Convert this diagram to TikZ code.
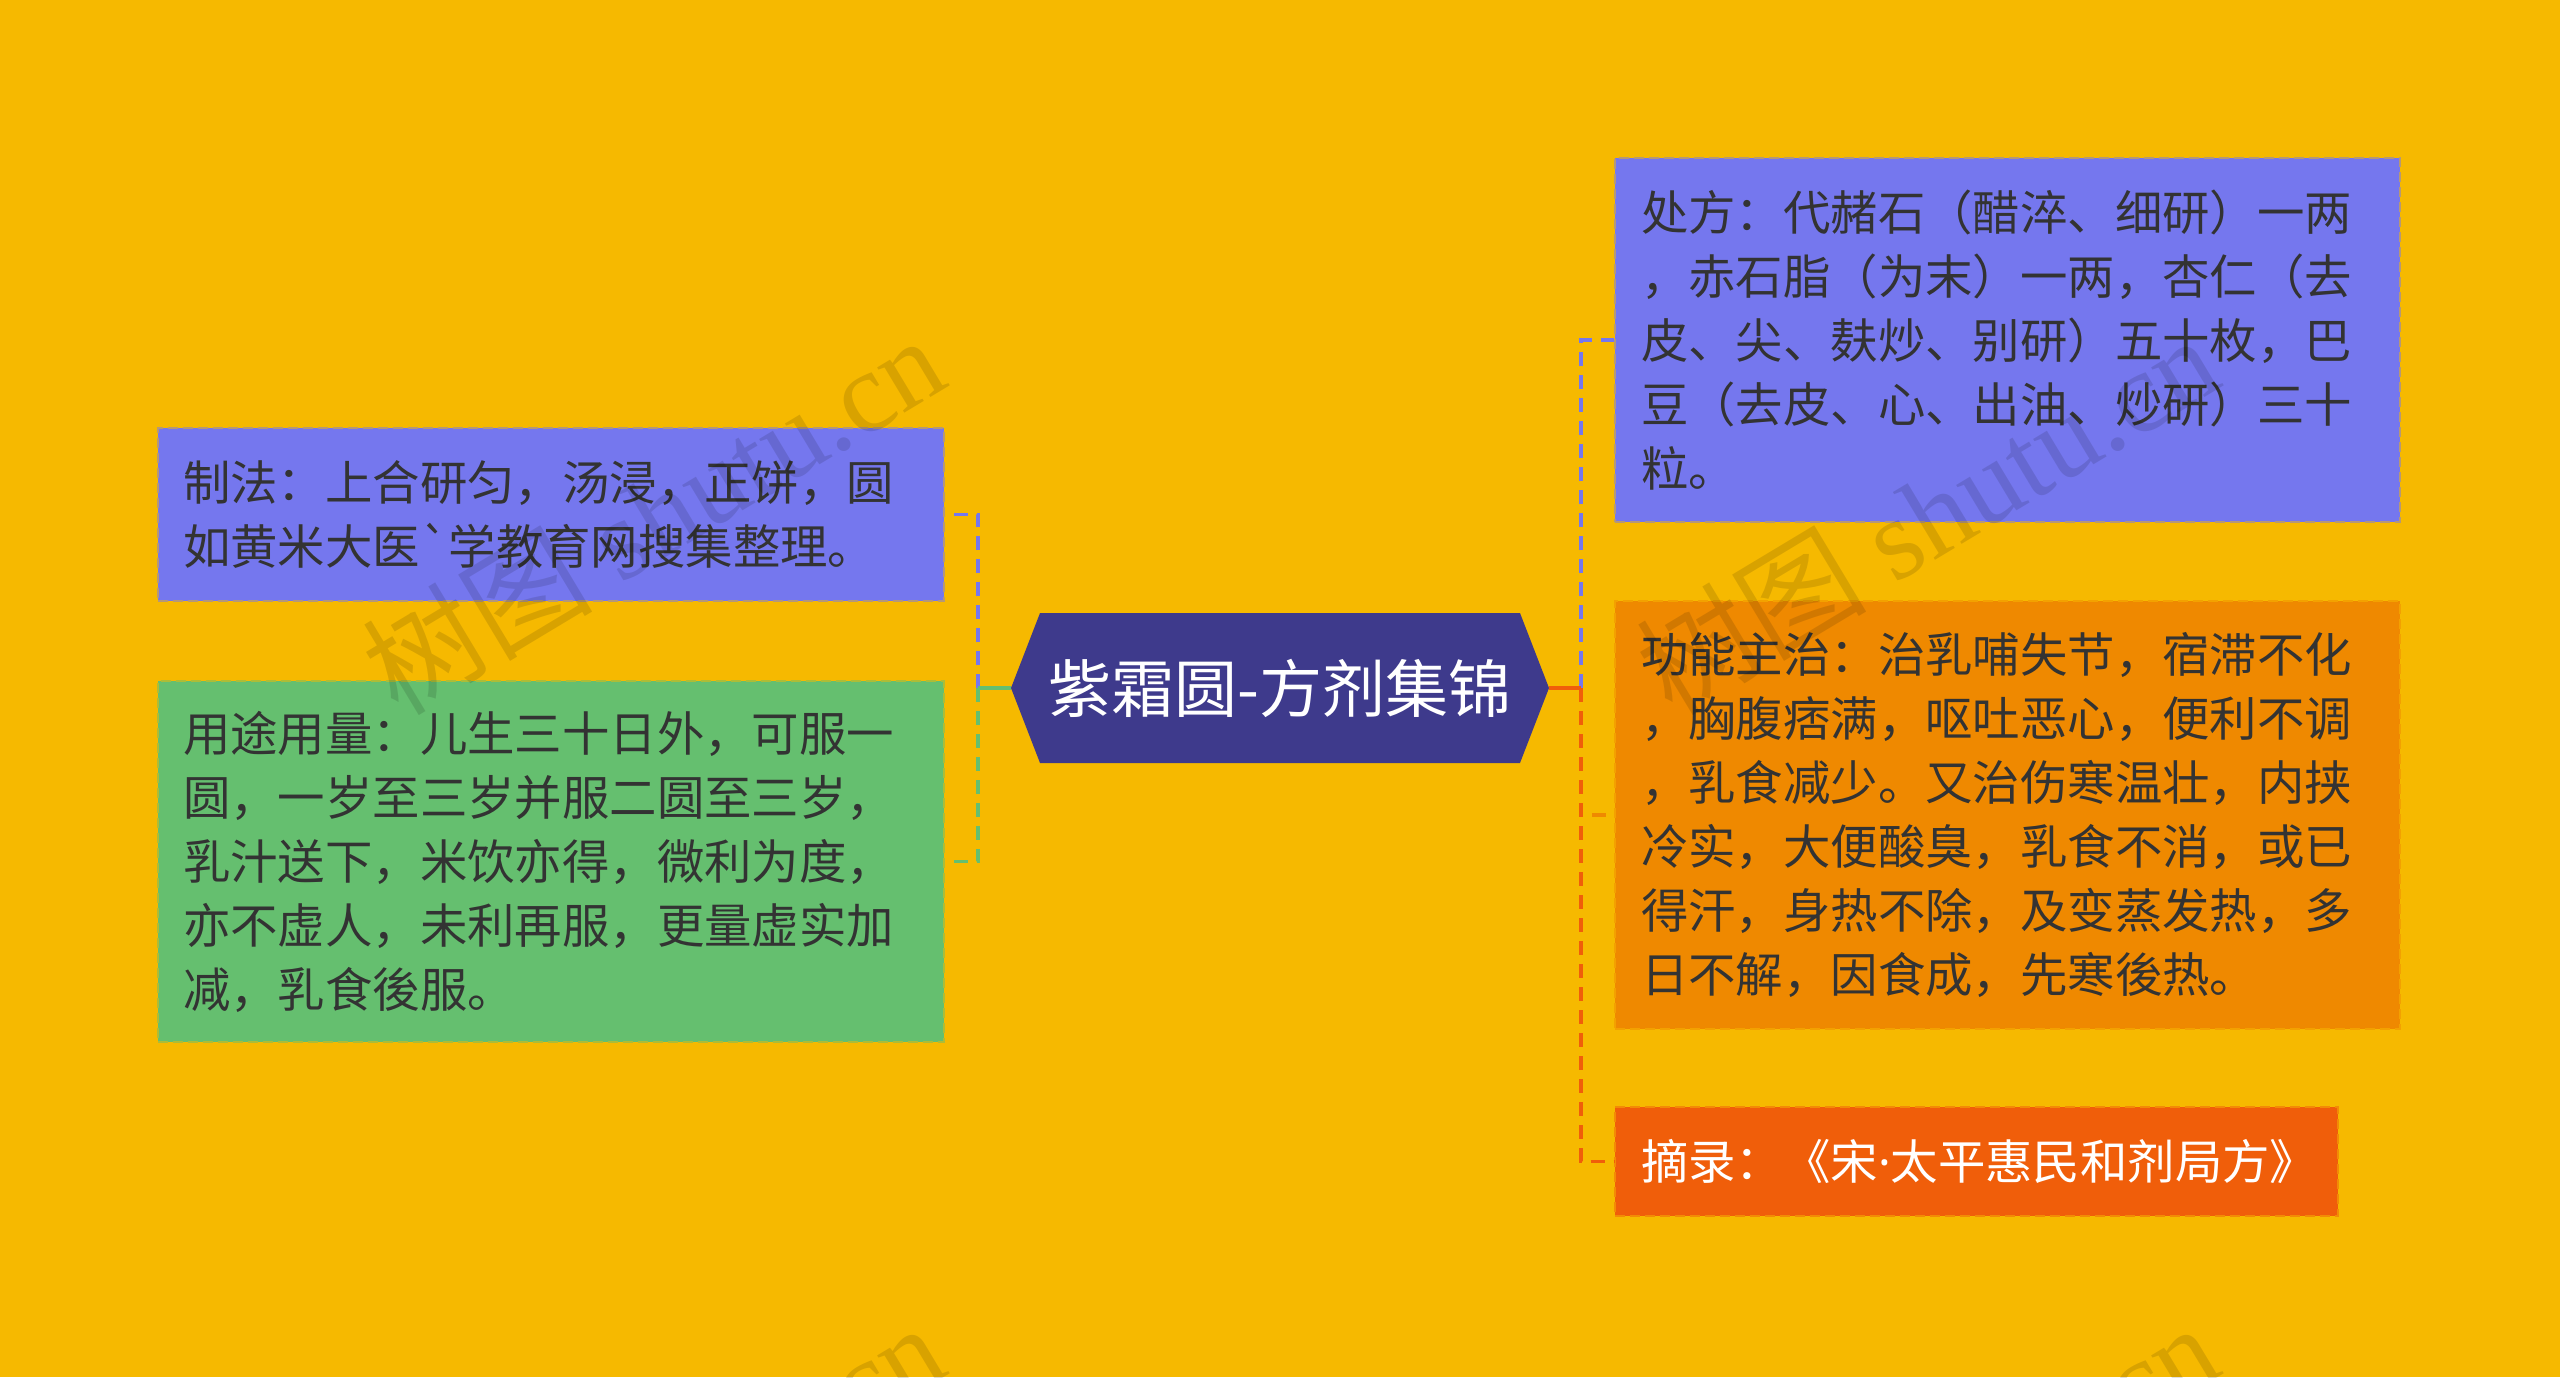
\documentclass[tikz,border=0pt]{standalone}
\usepackage{fontspec}
\newfontfamily\cjk{Noto Sans CJK SC}
\newfontfamily\latsans{Noto Sans}
\newfontfamily\wmlatin{Liberation Serif}
\usetikzlibrary{shapes.symbols}
\definecolor{bg}{HTML}{F6B900}
\definecolor{pblue}{HTML}{7577EE}
\definecolor{mgreen}{HTML}{65BF6F}
\definecolor{morange}{HTML}{EF8900}
\definecolor{ored}{HTML}{F05E0A}
\definecolor{cblue}{HTML}{3E3A8C}
\definecolor{txt}{HTML}{333333}
\begin{document}
\begin{tikzpicture}[x=1pt,y=-1pt,
  box/.style={rectangle, inner xsep=25pt, inner ysep=0pt, align=left, text=txt,
    font=\cjk\fontsize{47.4}{64}\selectfont, line width=2.5pt, dash pattern=on 10pt off 5pt},
  link/.style={line width=3.3pt, dash pattern=on 14pt off 9pt},
  trunk/.style={line width=3.3pt},
  wm/.style={text=black, opacity=0.12, font=\wmlatin\fontsize{115}{115}\selectfont, rotate=31, inner sep=0pt}]

\fill[bg] (0,0) rectangle (2560,1377);
\path[use as bounding box] (0,0) rectangle (2560,1377);

% central topic
\node[signal, signal to=east and west, signal pointer angle=137.7, fill=cblue, text=white,
  font=\cjk\fontsize{63}{63}\selectfont, minimum width=538pt, minimum height=150pt, inner sep=0pt]
  (c) at (1280,688) {紫霜圆-方剂集锦};

% left boxes
\node[box, fill=pblue, draw=pblue!50!bg, text width=736pt, minimum height=173pt] (L1) at (551,514.5)
  {制法：上合研匀，汤浸，正饼，圆\\如黄米大医`学教育网搜集整理。};
\node[box, fill=mgreen, draw=mgreen!50!bg, text width=736pt, minimum height=361pt] (L2) at (551,861.5)
  {用途用量：儿生三十日外，可服一\\圆，一岁至三岁并服二圆至三岁，\\乳汁送下，米饮亦得，微利为度，\\亦不虚人，未利再服，更量虚实加\\减，乳食後服。};

% right boxes
\node[box, inner xsep=26pt, fill=pblue, draw=pblue!50!bg, text width=733pt, minimum height=364pt] (R1) at (2007.5,340)
  {处方：代赭石（醋淬、细研）一两\\，赤石脂（为末）一两，杏仁（去\\皮、尖、麸炒、别研）五十枚，巴\\豆（去皮、心、出油、炒研）三十\\粒。};
\node[box, inner xsep=26pt, fill=morange, draw=morange!50!bg, text width=733pt, minimum height=428pt] (R2) at (2007.5,815)
  {功能主治：治乳哺失节，宿滞不化\\，胸腹痞满，呕吐恶心，便利不调\\，乳食减少。又治伤寒温壮，内挟\\冷实，大便酸臭，乳食不消，或已\\得汗，身热不除，及变蒸发热，多\\日不解，因食成，先寒後热。};
\node[box, inner xsep=26pt, fill=ored, draw=ored!50!bg, text=white, text width=671pt, minimum height=109pt] (R3) at (1976.5,1161.5)
  {摘录：《宋{\latsans ·}太平惠民和剂局方》};

% connectors
\coordinate (jl) at (978,688);
\coordinate (jr) at (1581,688);
\draw[link, pblue] (jl) |- (L1.east);
\draw[link, mgreen] (jl) |- (L2.east);
\draw[trunk, mgreen] (c.west) -- (jl);
\draw[link, pblue] (jr) |- (R1.west);
\draw[link, morange] (jr) |- (R2.west);
\draw[link, ored] (jr) |- (R3.west);
\draw[trunk, ored] (c.east) -- (jr);

% watermarks
\begin{scope}
\clip (0,0) rectangle (2560,1377);
\node[wm] (wm1) at (653,514) {{\cjk 树图} shutu.cn};
\node[wm] (wm2) at (1927,514) {{\cjk 树图} shutu.cn};
\node[wm] (wm3) at (653,1502) {{\cjk 树图} shutu.cn};
\node[wm] (wm4) at (1927,1502) {{\cjk 树图} shutu.cn};
\end{scope}
\end{tikzpicture}
\end{document}
